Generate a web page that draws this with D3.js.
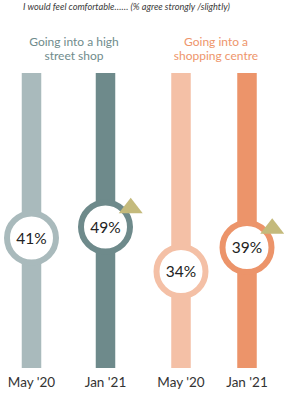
<!DOCTYPE html>
<html>
<head>
<meta charset="utf-8">
<script src="https://cdn.jsdelivr.net/npm/d3@7"></script>
<style>
  body { margin: 0; background: #fff; }
  svg { display: block; }
</style>
</head>
<body>
<svg id="chart" width="284" height="400"></svg>
<script>
// data
const subtitle = "I would feel comfortable…… (% agree strongly /slightly)";
const groups = [["Going into a high", "street shop"], ["Going into a", "shopping centre"]];
const periods = ["May '20", "Jan '21"];
const highStreet = [41, 49];
const shoppingCentre = [34, 39];
const groupColors = ["#6f8b8c", "#ee956b"];
const barColors = [["#a9babc", "#6e8a8b"], ["#f4c0a6", "#ec946a"]];
const arrowColor = "#c4ba7c";

const svg = d3.select("#chart");
const barTop = 73, barBottom = 368, barW = 19.5;

// each panel has its own x / y placement
const panels = [
  { values: highStreet, x: d3.scalePoint().domain(periods).range([31.5, 105.5]),
    y: d3.scaleLinear().domain([41, 49]).range([238, 227]), titleX: 74 },
  { values: shoppingCentre, x: d3.scalePoint().domain(periods).range([181, 247]),
    y: d3.scaleLinear().domain([34, 39]).range([271.5, 247.5]), titleX: 216 }
];

svg.append("text")
  .attr("x", 23).attr("y", 10)
  .attr("font-family", "Lato, sans-serif")
  .attr("font-style", "italic")
  .attr("font-size", 9.2)
  .attr("fill", "#3a3a3a")
  .text(subtitle);

panels.forEach(function (p, gi) {
  const g = svg.append("g");

  g.selectAll("text.title").data(groups[gi]).enter().append("text")
    .attr("class", "title")
    .attr("x", p.titleX)
    .attr("y", (d, i) => 46 + i * 14)
    .attr("text-anchor", "middle")
    .attr("font-family", "Lato, sans-serif")
    .attr("font-size", 12)
    .attr("fill", groupColors[gi])
    .text(d => d);

  const items = periods.map((per, i) => ({ per: per, v: p.values[i], c: barColors[gi][i], last: i === periods.length - 1 }));

  g.selectAll("rect").data(items).enter().append("rect")
    .attr("x", d => p.x(d.per) - barW / 2)
    .attr("y", barTop)
    .attr("width", barW)
    .attr("height", barBottom - barTop)
    .attr("fill", d => d.c);

  g.selectAll("circle").data(items).enter().append("circle")
    .attr("cx", d => p.x(d.per))
    .attr("cy", d => p.y(d.v))
    .attr("r", 24.5)
    .attr("fill", "#fff")
    .attr("stroke", d => d.c)
    .attr("stroke-width", 6);

  // up arrow on the latest period
  const ang = -38 * Math.PI / 180, dist = 32;
  g.selectAll("path.arrow").data(items.filter(d => d.last)).enter().append("path")
    .attr("class", "arrow")
    .attr("transform", d => "translate(" + (p.x(d.per) + dist * Math.cos(ang)) + "," + (p.y(d.v) + dist * Math.sin(ang)) + ")")
    .attr("d", "M0,-9.5L12,6L-12,6Z")
    .attr("fill", arrowColor);

  g.selectAll("text.val").data(items).enter().append("text")
    .attr("class", "val")
    .attr("x", d => p.x(d.per))
    .attr("y", d => p.y(d.v) + 5.5)
    .attr("text-anchor", "middle")
    .attr("font-family", "Lato, sans-serif")
    .attr("font-size", 15.5)
    .attr("fill", "#222")
    .text(d => d.v + "%");

  g.selectAll("text.per").data(items).enter().append("text")
    .attr("class", "per")
    .attr("x", d => p.x(d.per))
    .attr("y", 387)
    .attr("text-anchor", "middle")
    .attr("font-family", "Lato, sans-serif")
    .attr("font-size", 13.5)
    .attr("fill", "#333")
    .text(d => d.per);
});
</script>
</body>
</html>
